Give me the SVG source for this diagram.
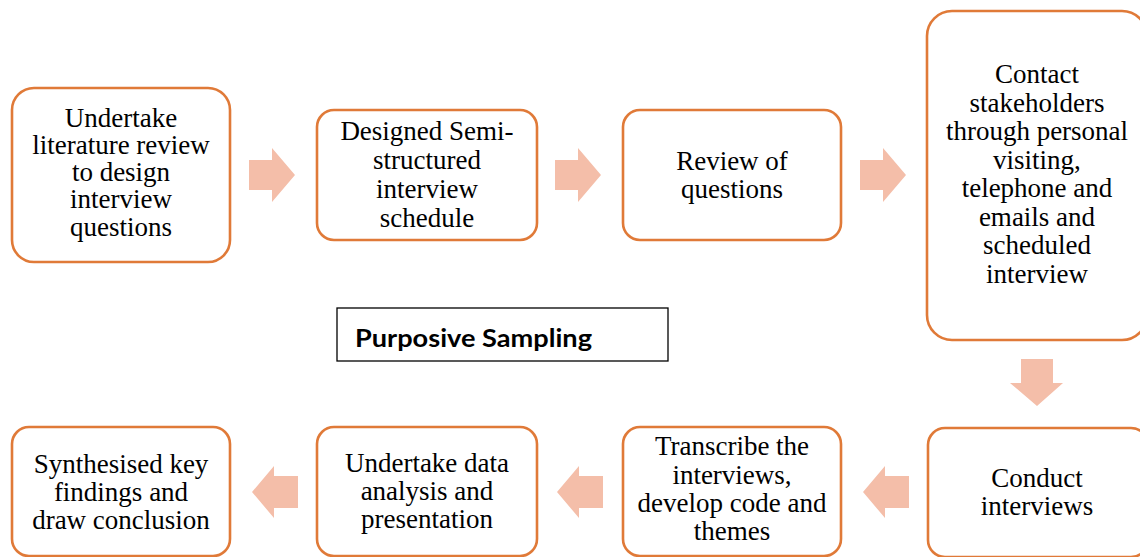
<svg xmlns="http://www.w3.org/2000/svg" width="1140" height="557" viewBox="0 0 1140 557">
  <style>
    .box { fill: #ffffff; stroke: #E07A38; stroke-width: 2.6; }
    .lbl { font-family: "Liberation Serif", "Times New Roman", serif; font-size: 27px; fill: #000000; text-anchor: middle; }
    .arrow { fill: #F4BEA9; stroke: none; }
    .note { fill: #ffffff; stroke: #000000; stroke-width: 1.3; }
    .noteText { font-family: Lato, "Liberation Sans", sans-serif; font-weight: bold; font-size: 24px; fill: #000000; }
  </style>
  <rect width="1140" height="557" fill="#ffffff"/>

  <!-- block arrows between steps -->
  <g id="connectors">
    <path class="arrow" d="M249,160 H272 V148 L295,175 L272,202 V190 H249 Z"/>
    <path class="arrow" d="M555,160 H578 V148 L601,175 L578,202 V190 H555 Z"/>
    <path class="arrow" d="M860,160 H883 V148 L906,175 L883,202 V190 H860 Z"/>
    <path class="arrow" d="M1021,359 H1053 V383 H1063 L1037,406 L1010,383 H1021 Z"/>
    <path class="arrow" d="M863,492 L885,466 V476 H909 V508 H885 V518 Z"/>
    <path class="arrow" d="M557,492 L579,466 V476 H603 V508 H579 V518 Z"/>
    <path class="arrow" d="M252,492 L274,466 V476 H298 V508 H274 V518 Z"/>
  </g>

  <g id="step-literature">
    <rect class="box" x="12" y="88" width="218" height="174" rx="22"/>
    <text class="lbl" x="121" y="126.5">Undertake</text>
    <text class="lbl" x="121" y="153.8">literature review</text>
    <text class="lbl" x="121" y="181.1">to design</text>
    <text class="lbl" x="121" y="208.4">interview</text>
    <text class="lbl" x="121" y="235.7">questions</text>
  </g>

  <g id="step-schedule">
    <rect class="box" x="317" y="110" width="220" height="130" rx="17"/>
    <text class="lbl" x="427" y="140">Designed Semi-</text>
    <text class="lbl" x="427" y="169">structured</text>
    <text class="lbl" x="427" y="198">interview</text>
    <text class="lbl" x="427" y="227">schedule</text>
  </g>

  <g id="step-review">
    <rect class="box" x="623" y="110" width="218" height="130" rx="17"/>
    <text class="lbl" x="732" y="170">Review of</text>
    <text class="lbl" x="732" y="198">questions</text>
  </g>

  <g id="step-contact">
    <rect class="box" x="927" y="11" width="220" height="329" rx="25"/>
    <text class="lbl" x="1037" y="83">Contact</text>
    <text class="lbl" x="1037" y="111.5">stakeholders</text>
    <text class="lbl" x="1037" y="140">through personal</text>
    <text class="lbl" x="1037" y="168.5">visiting,</text>
    <text class="lbl" x="1037" y="197">telephone and</text>
    <text class="lbl" x="1037" y="225.5">emails and</text>
    <text class="lbl" x="1037" y="254">scheduled</text>
    <text class="lbl" x="1037" y="282.5">interview</text>
  </g>

  <g id="sampling-note">
    <rect class="note" x="337" y="308" width="331" height="53"/>
    <text class="noteText" x="355" y="346.5" textLength="237" lengthAdjust="spacingAndGlyphs">Purposive Sampling</text>
  </g>

  <g id="step-conduct">
    <rect class="box" x="928" y="428" width="220" height="129" rx="17"/>
    <text class="lbl" x="1037" y="487">Conduct</text>
    <text class="lbl" x="1037" y="515">interviews</text>
  </g>

  <g id="step-transcribe">
    <rect class="box" x="623" y="427" width="218" height="129" rx="17"/>
    <text class="lbl" x="732" y="455">Transcribe the</text>
    <text class="lbl" x="732" y="483.5">interviews,</text>
    <text class="lbl" x="732" y="512">develop code and</text>
    <text class="lbl" x="732" y="540">themes</text>
  </g>

  <g id="step-analysis">
    <rect class="box" x="317" y="427" width="220" height="129" rx="17"/>
    <text class="lbl" x="427" y="472">Undertake data</text>
    <text class="lbl" x="427" y="500">analysis and</text>
    <text class="lbl" x="427" y="528">presentation</text>
  </g>

  <g id="step-synthesis">
    <rect class="box" x="12" y="427" width="218" height="129" rx="17"/>
    <text class="lbl" x="121" y="473">Synthesised key</text>
    <text class="lbl" x="121" y="501">findings and</text>
    <text class="lbl" x="121" y="529">draw conclusion</text>
  </g>
</svg>
